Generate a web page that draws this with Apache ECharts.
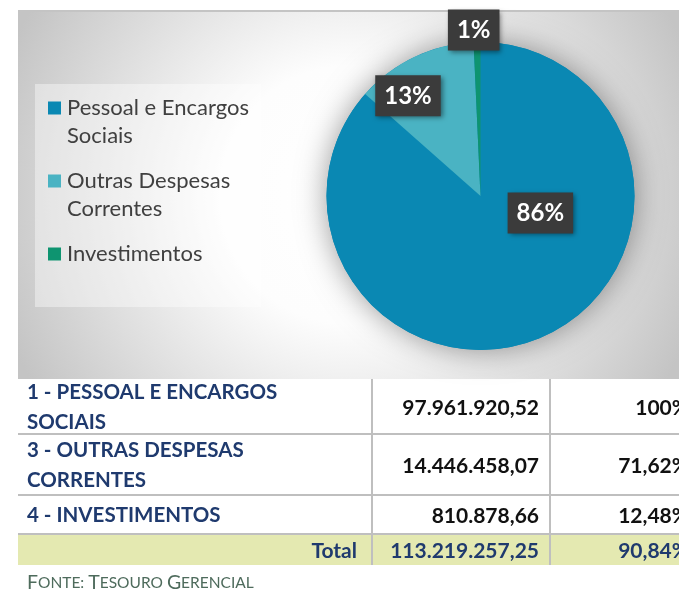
<!DOCTYPE html>
<html>
<head>
<meta charset="utf-8">
<script src="https://cdn.jsdelivr.net/npm/echarts@6/dist/echarts.min.js"></script>
<style>
  body { margin: 0; background: #fff; }
  #main { width: 679px; height: 601px; }
</style>
</head>
<body>
<div id="main"></div>
<script>
// dados do gráfico e da tabela
const categorias = ["Pessoal e Encargos Sociais", "Outras Despesas Correntes", "Investimentos"];
const legendaLinhas = [["Pessoal e Encargos", "Sociais"], ["Outras Despesas", "Correntes"], ["Investimentos"]];
const valores = [97961920.52, 14446458.07, 810878.66];
const rotulosPizza = ["86%", "13%", "1%"];
const cores = ["#0a88b3", "#4ab3c3", "#0e9470"];
const linhasTabela = [["1 - PESSOAL E ENCARGOS", "SOCIAIS"], ["3 - OUTRAS DESPESAS", "CORRENTES"], ["4 - INVESTIMENTOS"]];
const percentuais = ["100%", "71,62%", "12,48%"];
const percentualTotal = "90,84%";

// deslocamento dos rótulos em relação à posição 'inside'
const deslocRotulo = [[27, -56], [-38, -28], [-5, -86]];

function formata(v) {
  var partes = v.toFixed(2).split(".");
  return partes[0].replace(/\B(?=(\d{3})+(?!\d))/g, ".") + "," + partes[1];
}
var total = valores.reduce((a, b) => a + b, 0);

var myChart = echarts.init(document.querySelector("#main"));

var fonte = "Lato, 'Open Sans', sans-serif";

var rich = { t: { fontSize: 22, lineHeight: 28, color: "#404040", fontFamily: fonte, padding: [0, 0, 0, 6] }, g: { width: 13 } };
for (var i = 0; i < cores.length; i++) {
  rich["m" + i] = { width: 13, height: 13, backgroundColor: cores[i] };
}

// tabela abaixo do gráfico
var linhasY = [379, 434, 495, 534, 565];
var fonteTab = "bold 21px " + fonte;
var tabela = [];
tabela.push({ type: "rect", shape: { x: 18, y: linhasY[3], width: 661, height: linhasY[4] - linhasY[3] }, style: { fill: "#e4e9b1" } });
for (var i = 1; i < 4; i++) {
  tabela.push({ type: "line", shape: { x1: 18, y1: linhasY[i], x2: 679, y2: linhasY[i] }, style: { stroke: "#bfbfbf", lineWidth: 2 } });
}
[372, 550].forEach(function (x) {
  tabela.push({ type: "line", shape: { x1: x, y1: linhasY[0], x2: x, y2: linhasY[4] }, style: { stroke: "#bfbfbf", lineWidth: 2 } });
});
for (var i = 0; i < linhasTabela.length; i++) {
  var meio = (linhasY[i] + linhasY[i + 1]) / 2;
  tabela.push({ type: "text", style: { text: linhasTabela[i].join("\n"), x: 27, y: meio + 1, verticalAlign: "middle", fill: "#1f3a6e", font: "bold 20.5px " + fonte, lineHeight: 30 } });
  tabela.push({ type: "text", style: { text: formata(valores[i]), x: 539, y: meio + 2, align: "right", verticalAlign: "middle", fill: "#111", font: fonteTab } });
  tabela.push({ type: "text", style: { text: percentuais[i], x: 689, y: meio + 2, align: "right", verticalAlign: "middle", fill: "#111", font: fonteTab } });
}
var meioT = (linhasY[3] + linhasY[4]) / 2 + 2;
tabela.push({ type: "text", style: { text: "Total", x: 357, y: meioT, align: "right", verticalAlign: "middle", fill: "#1f3a6e", font: fonteTab } });
tabela.push({ type: "text", style: { text: formata(total), x: 539, y: meioT, align: "right", verticalAlign: "middle", fill: "#1f3a6e", font: fonteTab } });
tabela.push({ type: "text", style: { text: percentualTotal, x: 689, y: meioT, align: "right", verticalAlign: "middle", fill: "#1f3a6e", font: fonteTab } });
tabela.push({
  type: "text",
  style: {
    text: "{b|F}{s|ONTE: }{b|T}{s|ESOURO }{b|G}{s|ERENCIAL}",
    x: 27, y: 583, verticalAlign: "middle",
    rich: {
      b: { fontSize: 19.5, fontFamily: fonte, fill: "#4e6b5c" },
      s: { fontSize: 15.5, fontFamily: fonte, fill: "#4e6b5c" }
    }
  }
});

var option = {
  animation: false,
  color: cores,
  graphic: [
    {
      type: "rect", z: -10,
      shape: { x: 18, y: 11, width: 661, height: 368 },
      style: {
        fill: new echarts.graphic.RadialGradient(0.5, 0.5, 1.0, [
          { offset: 0, color: "#ffffff" },
          { offset: 0.35, color: "#fdfdfd" },
          { offset: 0.5, color: "#f0f0f0" },
          { offset: 0.9, color: "#cdcdcd" },
          { offset: 1, color: "#c4c4c4" }
        ])
      }
    },
    { type: "line", z: -9, shape: { x1: 18, y1: 11, x2: 679, y2: 11 }, style: { stroke: "#c4c4c4", lineWidth: 2 } },
    { type: "rect", z: -8, shape: { x: 35, y: 84, width: 226, height: 223 }, style: { fill: "rgba(255,255,255,0.4)" } },
    { type: "group", children: tabela }
  ],
  legend: {
    data: categorias,
    orient: "vertical",
    left: 42,
    top: 97,
    padding: 0,
    itemGap: 23,
    itemWidth: 1,
    itemHeight: 1,
    itemStyle: { opacity: 0 },
    selectedMode: false,
    formatter: function (name) {
      var idx = categorias.indexOf(name);
      var l = legendaLinhas[idx];
      var s = "{m" + idx + "|}{t|" + l[0] + "}";
      if (l[1]) s += "\n{g|}{t|" + l[1] + "}";
      return s;
    },
    textStyle: { rich: rich }
  },
  series: [
    {
      // sombra por trás da pizza
      type: "pie",
      name: "sombra",
      center: [480.5, 196],
      radius: 154,
      silent: true,
      label: { show: false },
      itemStyle: { color: "#0a88b3", shadowBlur: 30, shadowColor: "rgba(0,0,0,0.4)" },
      data: [{ value: 1, name: "" }]
    },
    {
      type: "pie",
      name: "Despesas",
      center: [480.5, 196],
      radius: 154,
      startAngle: 90,
      clockwise: true,
      avoidLabelOverlap: false,
      itemStyle: { borderWidth: 0 },
      label: {
        show: true,
        position: "inside",
        formatter: function (p) { return rotulosPizza[p.dataIndex]; },
        color: "#fff",
        fontFamily: fonte,
        fontWeight: "bold",
        fontSize: 24,
        lineHeight: 25,
        backgroundColor: "#3b3b3b",
        padding: [8, 9, 8, 9],
        shadowBlur: 5,
        shadowOffsetX: 2,
        shadowOffsetY: 2,
        shadowColor: "rgba(0,0,0,0.45)"
      },
      labelLine: { show: false },
      labelLayout: function (params) {
        var d = deslocRotulo[params.dataIndex];
        return { dx: d[0], dy: d[1] };
      },
      data: categorias.map(function (c, i) { return { name: c, value: valores[i] }; })
    }
  ]
};
myChart.setOption(option);
</script>
</body>
</html>
